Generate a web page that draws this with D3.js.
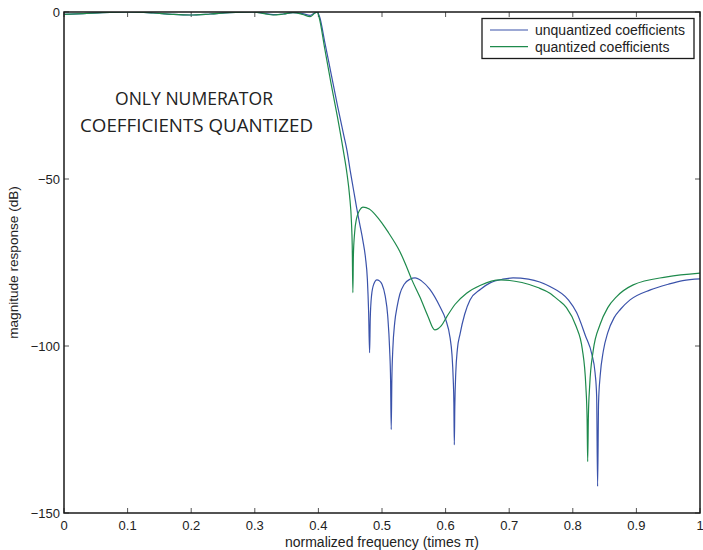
<!DOCTYPE html>
<html>
<head>
<meta charset="utf-8">
<script src="https://cdn.jsdelivr.net/npm/d3@7"></script>
<style>
  body { margin: 0; background: #fff; }
  text { font-family: "Liberation Sans", Arial, sans-serif; fill: #222; }
</style>
</head>
<body>
<script>
// frequency (times pi) and magnitude (dB)
const unqFreq = [0, 0.03, 0.06, 0.1, 0.14, 0.17, 0.198, 0.23, 0.26, 0.297, 0.315, 0.329, 0.345, 0.36, 0.375, 0.387, 0.394, 0.398,
  0.402, 0.41, 0.42, 0.43, 0.44, 0.445, 0.45, 0.455, 0.46, 0.465, 0.47, 0.474, 0.477, 0.479, 0.4805, 0.4815, 0.4835, 0.487, 0.492, 0.496,
  0.5, 0.505, 0.509, 0.512, 0.5135, 0.5145, 0.5155, 0.517, 0.52, 0.524, 0.528, 0.535, 0.544, 0.552, 0.562, 0.575, 0.591, 0.6, 0.607,
  0.61, 0.612, 0.613, 0.6137, 0.6145, 0.616, 0.6185, 0.6226, 0.63, 0.6384, 0.655, 0.67, 0.69, 0.706, 0.73, 0.764, 0.793, 0.806, 0.82, 0.83,
  0.835, 0.8375, 0.839, 0.8405, 0.843, 0.848, 0.855, 0.865, 0.875, 0.89, 0.922, 0.95, 0.973, 1.0];
const unqDb = [-0.7, -0.5, -0.2, 0, -0.3, -0.7, -0.9, -0.6, -0.2, 0, -0.4, -0.8, -0.6, -0.2, -0.5, -1.0, -0.3, 0,
  -1.5, -9, -18.5, -28, -37, -41.5, -47.5, -53, -58.5, -63.5, -68.5, -73.5, -80, -90, -102, -92, -85, -81.5, -80.2, -80.5,
  -81.5, -85, -91, -101, -110, -125, -110, -101, -93, -88, -84.5, -81.5, -80, -79.6, -80.5, -83, -88.2, -92, -97.5,
  -102.5, -110, -117, -129.6, -118, -108, -101, -96.5, -90.5, -86.2, -83, -81.1, -80, -79.6, -80, -82.2, -86.2, -90, -97, -102.5,
  -108, -115, -142, -117, -109, -101.5, -96, -91.5, -89, -86.2, -83.2, -81.5, -80.4, -79.9];

const qFreq = [0, 0.03, 0.06, 0.1, 0.14, 0.17, 0.198, 0.23, 0.26, 0.297, 0.315, 0.329, 0.345, 0.36, 0.375, 0.387, 0.394, 0.398,
  0.401, 0.41, 0.42, 0.43, 0.439, 0.445, 0.449, 0.452, 0.4532, 0.4542, 0.455, 0.457, 0.46, 0.465, 0.47, 0.48, 0.49, 0.5, 0.51,
  0.52, 0.528, 0.537, 0.547, 0.56, 0.572, 0.583, 0.593, 0.602, 0.615, 0.633, 0.655, 0.686, 0.72, 0.745, 0.764, 0.777, 0.79,
  0.805, 0.815, 0.8205, 0.8225, 0.8234, 0.8245, 0.8265, 0.832, 0.843, 0.855, 0.869, 0.895, 0.948, 1.0];
const qDb = [-0.7, -0.5, -0.2, 0, -0.3, -0.7, -0.9, -0.6, -0.2, 0, -0.5, -0.9, -0.6, -0.2, -0.7, -1.4, -0.4, 0,
  -1.5, -11, -21.5, -31.5, -41.3, -48.5, -55, -63, -70, -84, -73, -66, -61.8, -59.3, -58.4, -59, -60.8, -63.2, -66,
  -69, -71.7, -75.5, -80.2, -85.5, -91, -95.2, -94, -91.2, -87.5, -84.2, -81.8, -80.2, -81, -82.5, -84.2, -86.2, -88.5,
  -94, -101, -112, -122, -134.6, -121, -112, -101.5, -93.5, -88.5, -85.2, -81.7, -79.3, -78.2];

const xTicks = [0, 0.1, 0.2, 0.3, 0.4, 0.5, 0.6, 0.7, 0.8, 0.9, 1];
const yTicks = [0, -50, -100, -150];
const seriesNames = ["unquantized coefficients", "quantized coefficients"];
const colors = ["#3a52aa", "#1e8a4c"];

const W = 703, H = 550;
const margin = { left: 64, top: 12, right: 3, bottom: 37 };
const w = W - margin.left - margin.right;
const h = H - margin.top - margin.bottom;

const svg = d3.select("body").append("svg")
    .attr("width", W)
    .attr("height", H);

const x = d3.scaleLinear().domain([0, 1]).range([margin.left, margin.left + w]);
const y = d3.scaleLinear().domain([-150, 0]).range([margin.top + h, margin.top]);

svg.append("clipPath").attr("id", "plot")
  .append("rect")
    .attr("x", margin.left).attr("y", margin.top)
    .attr("width", w).attr("height", h);

// ticks inward on all four sides
const tickLen = 5;
const g = svg.append("g").attr("stroke", "#555").attr("stroke-width", 1);
xTicks.forEach(t => {
  g.append("line").attr("x1", x(t)).attr("x2", x(t)).attr("y1", y(-150)).attr("y2", y(-150) - tickLen);
  g.append("line").attr("x1", x(t)).attr("x2", x(t)).attr("y1", y(0)).attr("y2", y(0) + tickLen);
});
yTicks.forEach(t => {
  g.append("line").attr("x1", x(0)).attr("x2", x(0) + tickLen).attr("y1", y(t)).attr("y2", y(t));
  g.append("line").attr("x1", x(1)).attr("x2", x(1) - tickLen).attr("y1", y(t)).attr("y2", y(t));
});

svg.selectAll(".xlab")
  .data(xTicks)
  .join("text")
    .attr("x", d => x(d))
    .attr("y", y(-150) + 17)
    .attr("text-anchor", "middle")
    .attr("font-size", 13)
    .text(d => d3.format("~g")(d));

svg.selectAll(".ylab")
  .data(yTicks)
  .join("text")
    .attr("x", x(0) - 4)
    .attr("y", d => y(d) + 4.5)
    .attr("text-anchor", "end")
    .attr("font-size", 13)
    .text(d => d === 0 ? "0" : "\u2212" + Math.abs(d));

svg.append("text")
    .attr("x", x(0.5))
    .attr("y", 546.5)
    .attr("text-anchor", "middle")
    .attr("font-size", 14)
    .text("normalized frequency (times \u03c0)");

svg.append("text")
    .attr("transform", `translate(18,${y(-75)}) rotate(-90)`)
    .attr("text-anchor", "middle")
    .attr("font-size", 13.6)
    .text("magnitude response (dB)");

const line = d3.line()
    .x(d => x(d[0]))
    .y(d => y(d[1]))
    .curve(d3.curveMonotoneX);

const series = [d3.zip(unqFreq, unqDb), d3.zip(qFreq, qDb)];

svg.append("g")
    .attr("clip-path", "url(#plot)")
  .selectAll("path")
  .data(series)
  .join("path")
    .attr("fill", "none")
    .attr("stroke", (d, i) => colors[i])
    .attr("stroke-width", 1.2)
    .attr("d", line);

// frame
svg.append("rect")
    .attr("x", margin.left).attr("y", margin.top)
    .attr("width", w).attr("height", h)
    .attr("fill", "none")
    .attr("stroke", "#1a1a1a")
    .attr("stroke-width", 1.5);

// annotation
const note = svg.append("text")
    .attr("text-anchor", "middle")
    .attr("font-size", 17.5)
    .style("font-family", "'Open Sans', 'Noto Sans', sans-serif");
note.append("tspan").attr("x", 194).attr("y", 105)
    .attr("textLength", 158).attr("lengthAdjust", "spacingAndGlyphs").text("ONLY NUMERATOR");
note.append("tspan").attr("x", 196.5).attr("y", 131.5)
    .attr("textLength", 233).attr("lengthAdjust", "spacingAndGlyphs").text("COEFFICIENTS QUANTIZED");

// legend
const legend = svg.append("g");
legend.append("rect")
    .attr("x", 482).attr("y", 18.5)
    .attr("width", 212).attr("height", 40)
    .attr("fill", "#fff")
    .attr("stroke", "#1a1a1a")
    .attr("stroke-width", 1.3);
seriesNames.forEach((name, i) => {
  const ly = 30 + i * 16.7;
  legend.append("line")
      .attr("x1", 490).attr("x2", 528)
      .attr("y1", ly).attr("y2", ly)
      .attr("stroke", colors[i])
      .attr("stroke-width", 1.2);
  legend.append("text")
      .attr("x", 535).attr("y", ly + 5)
      .attr("font-size", 14)
      .text(name);
});
</script>
</body>
</html>
